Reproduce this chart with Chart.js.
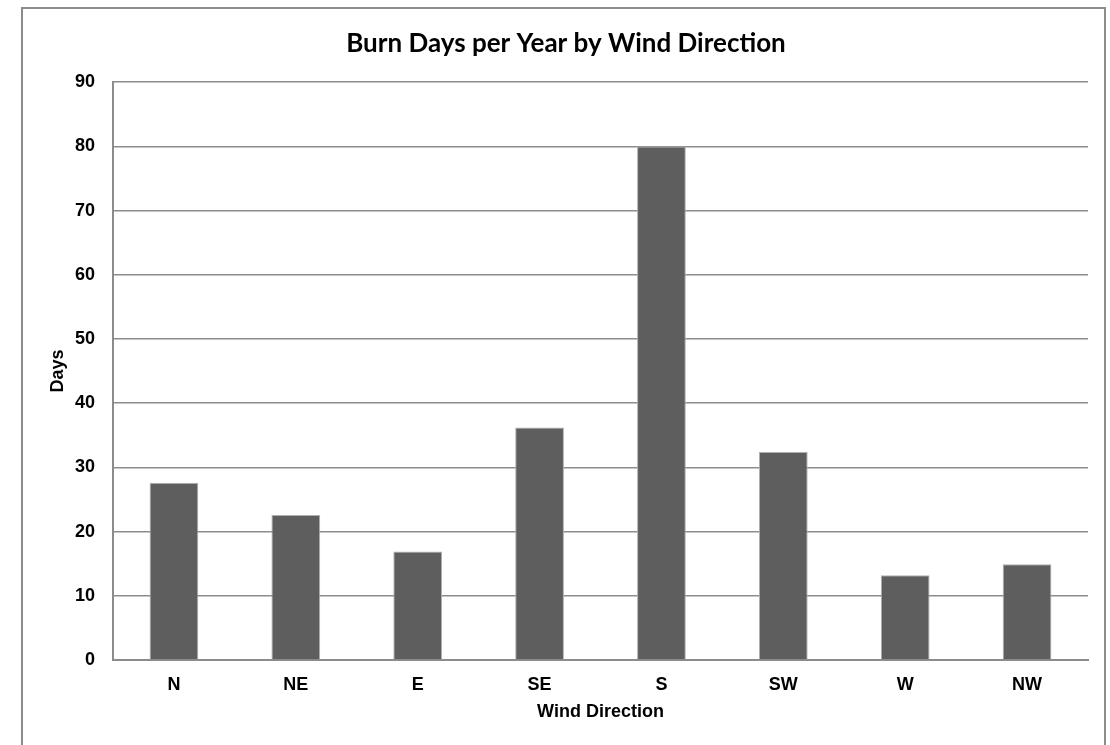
<!DOCTYPE html>
<html>
<head>
<meta charset="utf-8">
<script src="https://cdn.jsdelivr.net/npm/chart.js@4"></script>
<style>
  html, body { margin: 0; padding: 0; background: #fff; }
  body { width: 1110px; height: 745px; position: relative; overflow: hidden; }
  #frame {
    position: absolute; left: 21px; top: 7px; width: 1085px; height: 800px;
    border: 2px solid #8c8c8c; box-sizing: border-box;
  }
  #chart { position: absolute; left: 0; top: 0; }
</style>
</head>
<body>
<div id="frame"></div>
<canvas id="chart" width="1110" height="745"></canvas>
<script>
// categories and values
const directions = ["N", "NE", "E", "SE", "S", "SW", "W", "NW"];
const burnDays = [27.6, 22.6, 16.9, 36.2, 80, 32.4, 13.2, 14.9];
const yTicks = [0, 10, 20, 30, 40, 50, 60, 70, 80, 90];

const gridGray = "#8c8c8c";
const axisFont = { family: "'Liberation Sans', Arial, sans-serif", size: 18, weight: "bold" };

// the title is centred on the framed box, not on the canvas
const shiftTitle = {
  id: "shiftTitle",
  afterLayout(chart) {
    if (chart.titleBlock) {
      chart.titleBlock.left += 22;
      chart.titleBlock.right += 22;
    }
  }
};

new Chart(document.getElementById("chart").getContext("2d"), {
  type: "bar",
  data: {
    labels: directions,
    datasets: [{
      label: "Days",
      data: burnDays,
      backgroundColor: "#5e5e5e",
      borderColor: "#b0b0b0",
      borderWidth: 1,
      barPercentage: 0.4,
      categoryPercentage: 1.0
    }]
  },
  options: {
    responsive: false,
    animation: false,
    layout: { padding: { left: 0, right: 22, top: 0, bottom: 0 } },
    plugins: {
      legend: { display: false },
      tooltip: { enabled: false },
      title: {
        display: true,
        text: "Burn Days per Year by Wind Direction",
        color: "#000",
        font: { family: "Lato, 'Open Sans', sans-serif", size: 26, weight: "bold" },
        padding: { top: 28, bottom: 23 }
      }
    },
    scales: {
      x: {
        grid: { display: false, drawTicks: false },
        border: { display: true, color: gridGray, width: 2 },
        ticks: { color: "#000", font: axisFont, padding: 14, maxRotation: 0 },
        title: {
          display: true, text: "Wind Direction", color: "#000", font: axisFont,
          padding: { top: 0, bottom: 22 }
        },
        afterFit: scale => { scale.height = 85; }
      },
      y: {
        min: 0,
        max: 90,
        afterBuildTicks: scale => { scale.ticks = yTicks.map(v => ({ value: v })); },
        grid: { color: gridGray, lineWidth: 1.5, drawTicks: false },
        border: { display: true, color: gridGray, width: 2 },
        ticks: { color: "#000", font: axisFont, padding: 18 },
        title: {
          display: true, text: "Days", color: "#000", font: axisFont,
          padding: { top: 47, bottom: 0 }
        },
        afterFit: scale => { scale.width = 113; }
      }
    }
  },
  plugins: [shiftTitle]
});
</script>
</body>
</html>
